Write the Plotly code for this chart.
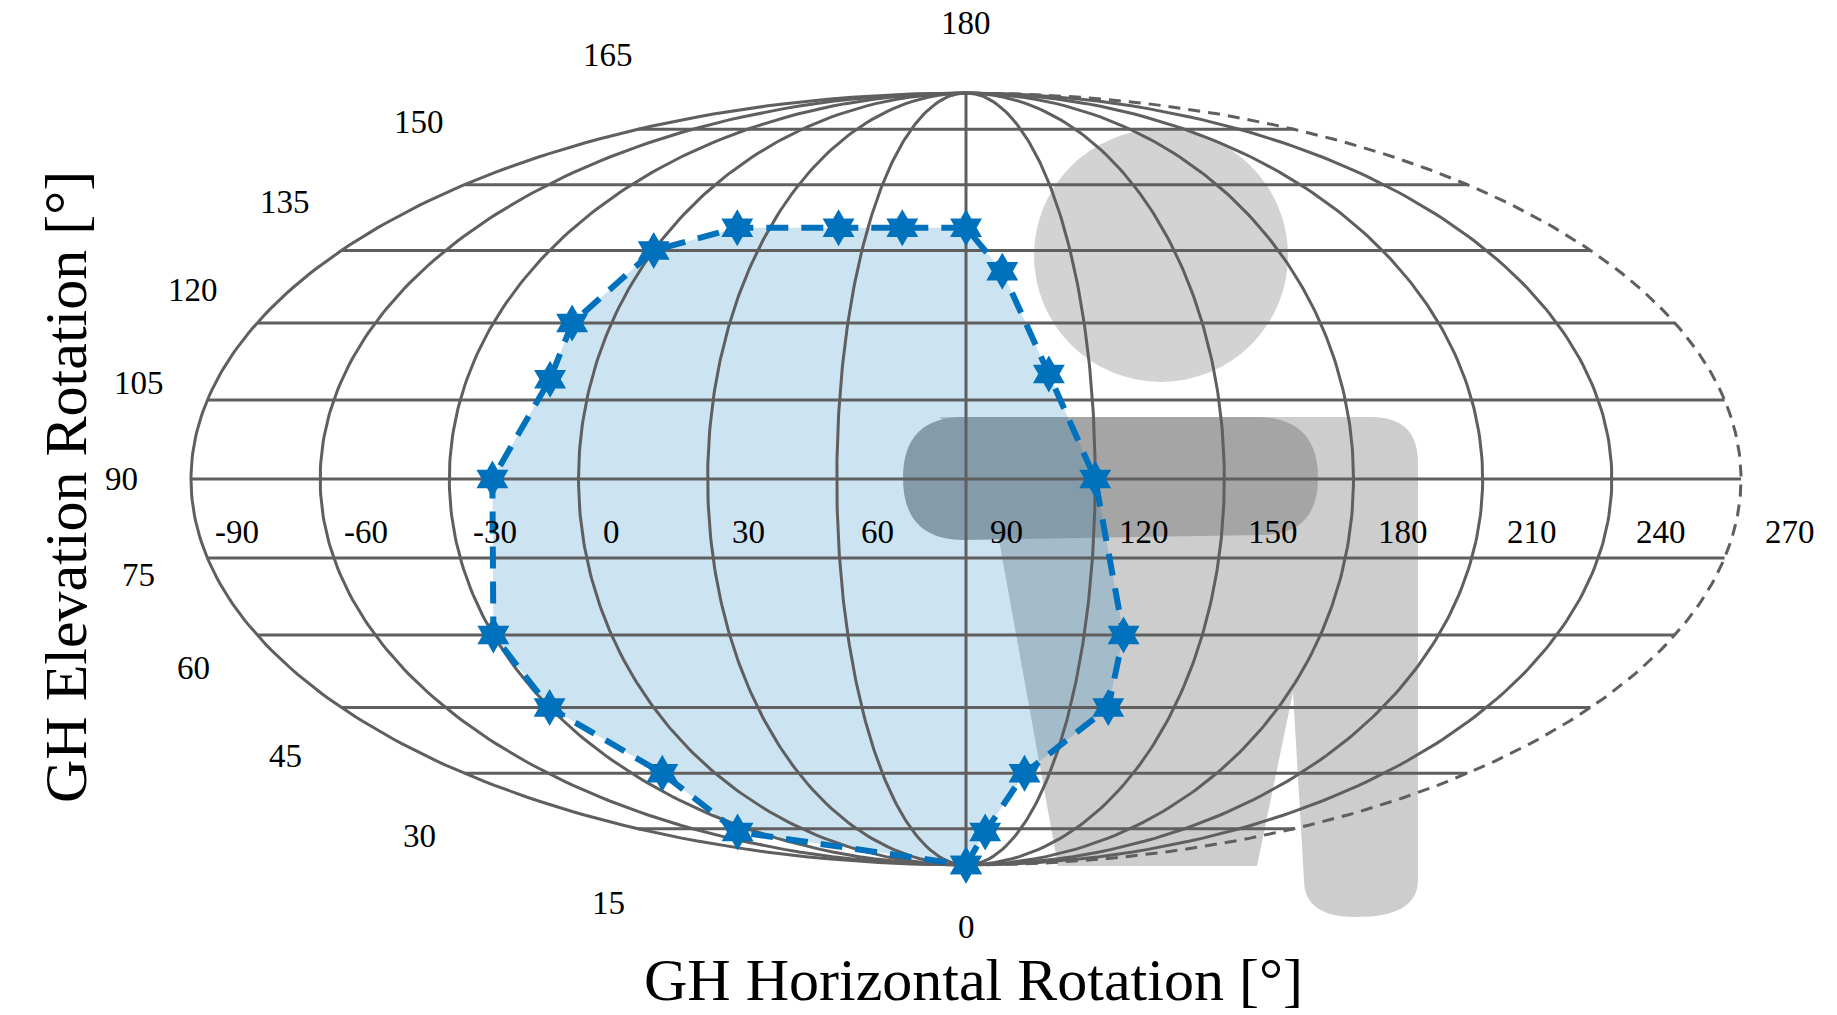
import numpy as np
import plotly.graph_objects as go

# data (degrees)
horiz = [90, 101, 111, 131, 130, 120, 110, 100, 90, 70.5, 51, 20, 0, -10, -10, -20, -30, -30, -19, -41, 90]
elev = [0, 14, 30, 45, 60, 90, 110, 130.6, 140, 140, 140, 140, 135, 120, 109, 90, 60, 45, 30, 14, 0]
horiz_ticks = [-90, -60, -30, 0, 30, 60, 90, 120, 150, 180, 210, 240, 270]
elev_ticks = [0, 15, 30, 45, 60, 75, 90, 105, 120, 135, 150, 165, 180]

CX, CY, A, B = 958, 471, 775, 386

def theta(phi):
    t = np.array(phi, dtype=float)
    for _ in range(50):
        f = 2*t + np.sin(2*t) - np.pi*np.sin(phi)
        d = 2 + 2*np.cos(2*t)
        t = t - np.where(np.abs(d) > 1e-9, f/np.where(np.abs(d) > 1e-9, d, 1), 0)
    return t

def proj(h, e, a=A, b=B):
    lam = np.radians(np.asarray(h, float) - 90)
    phi = np.radians(np.asarray(e, float) - 90)
    t = theta(phi)
    return CX + a*lam/np.pi*np.cos(t), CY - b*np.sin(t)

fig = go.Figure()
GRAY = "#5f5f5f"
dx, dy = -7, -8

def P(s):
    out = []
    toks = s.split()
    i = 0
    while i < len(toks):
        t = toks[i]
        if t.isalpha():
            out.append(t); i += 1
        else:
            out.append(f"{float(toks[i])+dx:g} {float(toks[i+1])+dy:g}"); i += 2
    return " ".join(out)

shapes = []
torso = "M 939 417 L 1370 417 Q 1417 417 1417 463 L 1417 880 Q 1417 917 1355 917 Q 1303 917 1303 880 L 1292 692 L 1256 866 L 1057 866 L 998 540 Z"
shapes.append(dict(type="path", path=P(torso), fillcolor="rgba(205,205,205,1)", line_width=0, layer="below"))
shapes.append(dict(type="circle", x0=1033+dx, y0=129+dy, x1=1287+dx, y1=382+dy, fillcolor="rgba(211,211,211,1)", line_width=0, layer="below"))
arm = "M 963 417 L 1260 417 Q 1317 420 1317 478 Q 1317 535 1260 535 L 963 540 Q 902 540 902 478 Q 902 417 963 417 Z"
shapes.append(dict(type="path", path=P(arm), fillcolor="rgba(165,165,165,1)", line_width=0, layer="below"))

px, py = proj(horiz, elev)
fig.add_trace(go.Scatter(x=px, y=py, mode="lines", fill="toself",
                         fillcolor="rgba(0,114,189,0.2)", line=dict(width=0), hoverinfo="skip"))

for e in elev_ticks[1:-1]:
    hs = np.linspace(-90, 270, 3)
    x, y = proj(hs, [e]*3)
    fig.add_trace(go.Scatter(x=x, y=y, mode="lines", line=dict(color=GRAY, width=3), hoverinfo="skip"))
es = np.linspace(0, 180, 181)
for h in horiz_ticks:
    x, y = proj([h]*len(es), es)
    fig.add_trace(go.Scatter(x=x, y=y, mode="lines",
                             line=dict(color=GRAY, width=3, dash="12px,8px" if h == 270 else "solid"), hoverinfo="skip"))

fig.add_trace(go.Scatter(x=px, y=py, mode="lines+markers",
                         line=dict(color="#0072BD", width=6, dash="22px,13px"),
                         marker=dict(symbol="hexagram", size=28, color="#0072BD"), hoverinfo="skip"))

ann = []
F = "Liberation Serif"
for h in horiz_ticks:
    x, y = proj([h], [90])
    ann.append(dict(x=x[0]+22, y=y[0]+53, text=str(h), showarrow=False, xanchor="left", yanchor="middle",
                    font=dict(family=F, size=33, color="black")))
for e in elev_ticks:
    if e == 180:
        x, y = proj([-90], [e], A, B+70)
    elif e == 0:
        x, y = proj([-90], [e], A, B+62)
    else:
        x, y = proj([-90], [e], A+70, B+82)
    ann.append(dict(x=x[0], y=y[0], text=str(e), showarrow=False, xanchor="center", yanchor="middle",
                    font=dict(family=F, size=33, color="black")))
ann.append(dict(x=965, y=972, text="GH Horizontal Rotation [°]", showarrow=False,
                font=dict(family=F, size=60, color="black")))
ann.append(dict(x=58, y=479, text="GH Elevation Rotation [°]", showarrow=False, textangle=-90,
                font=dict(family=F, size=60, color="black")))

fig.update_layout(width=1837, height=1015, margin=dict(l=0, r=0, t=0, b=0),
                  paper_bgcolor="white", plot_bgcolor="white", showlegend=False,
                  shapes=shapes, annotations=ann,
                  xaxis=dict(range=[0, 1837], visible=False, fixedrange=True),
                  yaxis=dict(range=[1015, 0], visible=False, fixedrange=True))
fig.write_html("out.html")
